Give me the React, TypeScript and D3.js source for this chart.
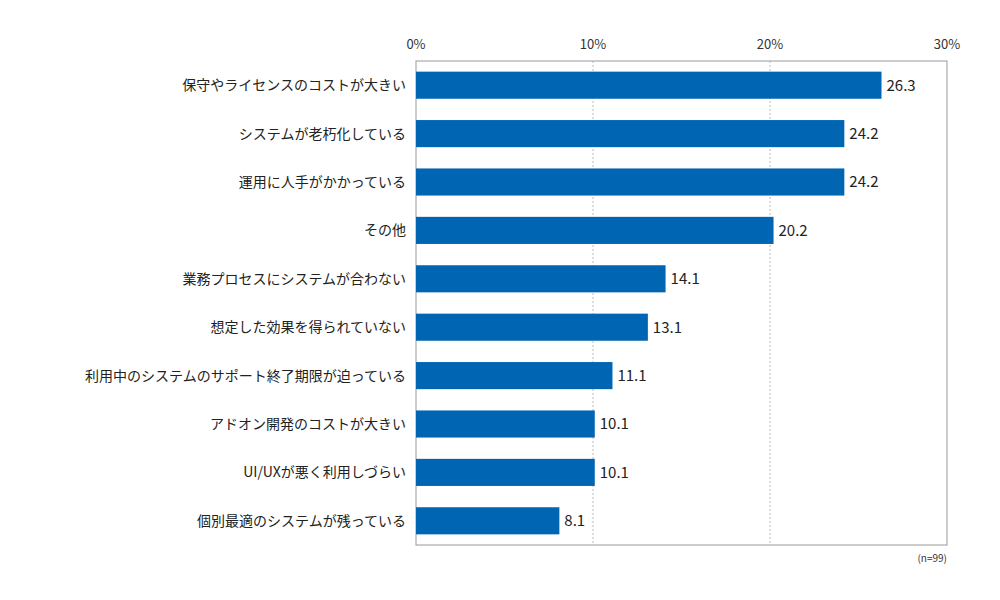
import { useRef, useEffect } from 'react';
import * as d3 from 'd3';

const categories = [
  '保守やライセンスのコストが大きい',
  'システムが老朽化している',
  '運用に人手がかかっている',
  'その他',
  '業務プロセスにシステムが合わない',
  '想定した効果を得られていない',
  '利用中のシステムのサポート終了期限が迫っている',
  'アドオン開発のコストが大きい',
  'UI/UXが悪く利用しづらい',
  '個別最適のシステムが残っている',
];
const values = [26.3, 24.2, 24.2, 20.2, 14.1, 13.1, 11.1, 10.1, 10.1, 8.1];
const ticks = [0, 10, 20, 30];

const FONT = '"Noto Sans CJK JP", "Noto Sans", sans-serif';

export default function App() {
  const svgRef = useRef<SVGSVGElement>(null);

  useEffect(() => {
    if (!svgRef.current) return;
    const svg = d3.select(svgRef.current);
    svg.selectAll('*').remove();

    const left = 416, right = 947, top = 61, bottom = 545;
    const x = d3.scaleLinear().domain([0, 30]).range([left, right]);
    const y = d3.scaleBand().domain(categories).range([top, bottom]).paddingInner(0.44).paddingOuter(0.22);

    // gridlines
    svg.selectAll('line.grid')
      .data(ticks.slice(1, -1))
      .enter().append('line')
      .attr('x1', (d) => x(d)).attr('x2', (d) => x(d))
      .attr('y1', top).attr('y2', bottom)
      .attr('stroke', '#bbb').attr('stroke-dasharray', '2,2');

    // frame
    svg.append('rect')
      .attr('x', left).attr('y', top).attr('width', right - left).attr('height', bottom - top)
      .attr('fill', 'none').attr('stroke', '#999');

    // tick labels
    svg.selectAll('text.tick')
      .data(ticks)
      .enter().append('text')
      .attr('x', (d) => x(d)).attr('y', 49)
      .attr('text-anchor', 'middle')
      .attr('font-size', 13).attr('fill', '#333').attr('font-family', FONT)
      .text((d) => `${d}%`);

    // bars
    categories.forEach((c, i) => {
      const by = y(c)!;
      svg.append('rect')
        .attr('x', x(0)).attr('y', by)
        .attr('width', x(values[i]) - x(0)).attr('height', y.bandwidth())
        .attr('fill', '#0066b3');
      svg.append('text')
        .attr('x', x(values[i]) + 5).attr('y', by + y.bandwidth() / 2)
        .attr('dy', '0.36em')
        .attr('font-size', 15).attr('fill', '#222').attr('font-family', FONT)
        .text(values[i].toFixed(1));
      svg.append('text')
        .attr('x', left - 10).attr('y', by + y.bandwidth() / 2)
        .attr('dy', '0.36em').attr('text-anchor', 'end')
        .attr('font-size', 14).attr('fill', '#222').attr('font-family', FONT)
        .text(c);
    });

    svg.append('text')
      .attr('x', right).attr('y', 562).attr('text-anchor', 'end')
      .attr('font-size', 10).attr('fill', '#333').attr('font-family', FONT)
      .text('(n=99)');
  }, []);

  return (
    <div style={{ position: 'absolute', left: 0, top: 0 }}>
      <svg ref={svgRef} width={1000} height={600} style={{ display: 'block', background: '#fff' }} />
    </div>
  );
}
